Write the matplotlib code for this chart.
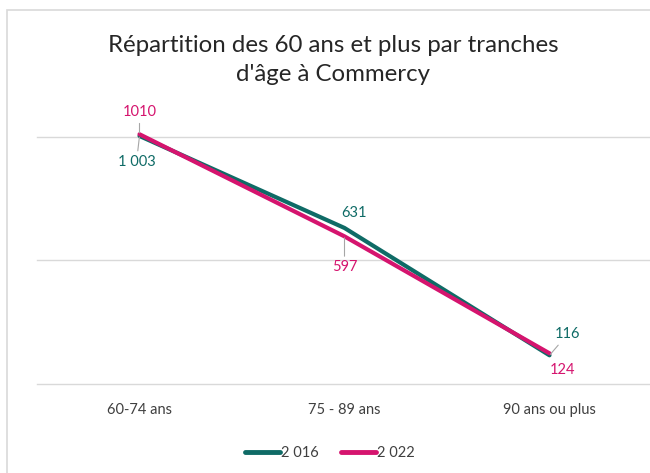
import numpy as np
import matplotlib.pyplot as plt
from matplotlib.patches import Rectangle

plt.rcParams['font.family'] = ['Lato', 'DejaVu Sans']

categories = ["60-74 ans", "75 - 89 ans", "90 ans ou plus"]
series_names = ["2 016", "2 022"]
values_2016 = [1003, 631, 116]
values_2022 = [1010, 597, 124]
labels_2016 = ["1 003", "631", "116"]
labels_2022 = ["1010", "597", "124"]

teal = "#0F6B66"
pink = "#D5146E"
grey_text = "#404040"

fig = plt.figure(figsize=(6.5, 4.73), dpi=100)
fig.patches.append(Rectangle((7 / 650, -0.1), 1.1, 1 - 10 / 473 + 0.1,
                             transform=fig.transFigure, fill=False,
                             edgecolor="#D9D9D9", linewidth=1.2))

ax = fig.add_axes([37 / 650, 1 - 384 / 473, 615 / 650, 272 / 473])
x = np.arange(len(categories))

ax.plot(x, values_2016, color=teal, lw=3.0, label=series_names[0],
        solid_capstyle="round", zorder=3)
ax.plot(x, values_2022, color=pink, lw=3.0, label=series_names[1],
        solid_capstyle="round", zorder=4)

ax.set_xlim(-0.5, 2.5)
ax.set_ylim(0, 1100)
ax.set_yticks([0, 500, 1000])
ax.set_yticklabels([])
ax.tick_params(axis="y", length=0)
ax.tick_params(axis="x", length=0, pad=14, labelsize=10.5, labelcolor=grey_text)
ax.set_xticks(x)
ax.set_xticklabels(categories)
ax.grid(axis="y", color="#D9D9D9", lw=1.0)
for gl in ax.get_ygridlines():
    gl.set_clip_on(False)
ax.set_axisbelow(True)
for s in ax.spines.values():
    s.set_visible(False)

leader = dict(arrowstyle="-", color="#A6A6A6", lw=0.8, shrinkA=1, shrinkB=1)

# (offset in pixels, draw leader line)
offsets_2016 = [((-3, -26), True), ((10, 15), False), ((18, 21), True)]
offsets_2022 = [((0, 22), True), ((0, -31), True), ((13, -17), False)]

for xi, v, lab, (off, lead) in zip(x, values_2016, labels_2016, offsets_2016):
    ax.annotate(lab, (xi, v), xytext=off, textcoords="offset pixels",
                ha="center", va="center", color=teal, fontsize=10.5,
                arrowprops=leader if lead else None, zorder=5)
for xi, v, lab, (off, lead) in zip(x, values_2022, labels_2022, offsets_2022):
    ax.annotate(lab, (xi, v), xytext=off, textcoords="offset pixels",
                ha="center", va="center", color=pink, fontsize=10.5,
                arrowprops=leader if lead else None, zorder=5)

fig.text(333 / 650, 1 - 60 / 473,
         "Répartition des 60 ans et plus par tranches\nd'âge à Commercy",
         ha="center", va="center", fontsize=17.3, color="#262626",
         linespacing=1.45)

fig.legend(loc="center", bbox_to_anchor=(330 / 650, 1 - 453 / 473), ncol=2,
           frameon=False, fontsize=10.5, handlelength=2.4, handletextpad=0.1,
           columnspacing=1.5, labelcolor=grey_text)
for h in fig.legends[0].get_lines():
    h.set_linewidth(3.5)

fig.savefig("out.png", dpi=100)
